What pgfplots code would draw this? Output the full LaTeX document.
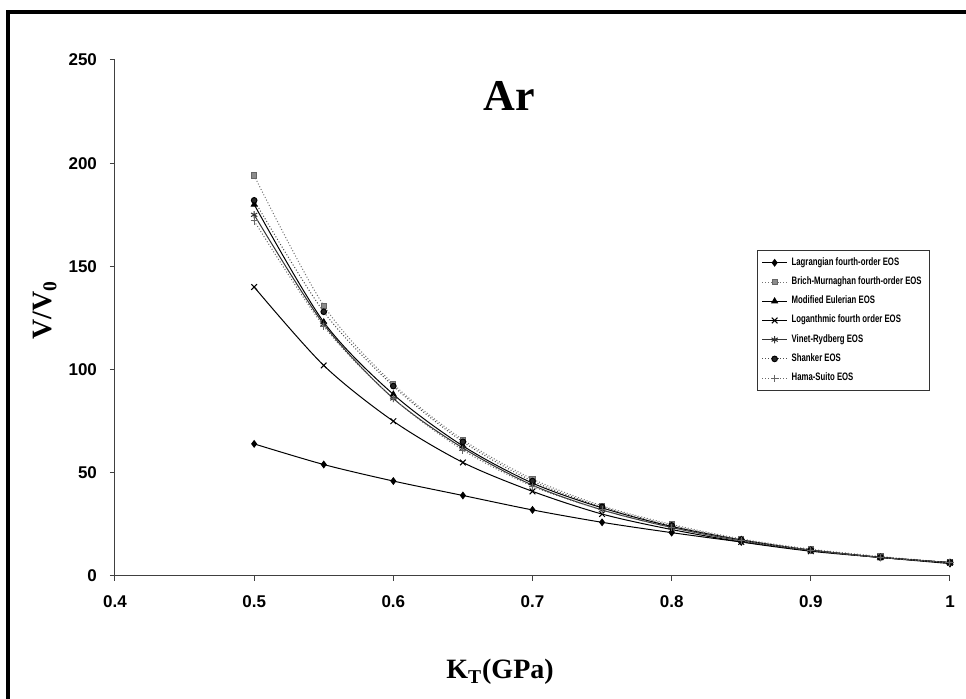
\documentclass[border=0pt]{standalone}
\usepackage{pgfplots}
\pgfplotsset{compat=1.18}
\usepackage{fontspec}
\setmainfont{Liberation Serif}
\setsansfont{Liberation Sans}
\newfontfamily\legfont[FakeStretch=0.72]{Liberation Sans}
\begin{document}
\begin{tikzpicture}
\useasboundingbox (-57.5pt,-61.5pt) rectangle (425.5pt,288pt);
\begin{axis}[
  at={(0pt,0pt)}, anchor=south west,
  scale only axis, width=417.5pt, height=258pt,
  xmin=0.4, xmax=1, ymin=0, ymax=250,
  xtick={0.4,0.5,0.6,0.7,0.8,0.9,1},
  ytick={0,50,100,150,200,250},
  axis x line=bottom, axis y line=left,
  axis line style={-, black!75, line width=0.5pt},
  tick align=outside, major tick length=2.5pt,
  tick style={black!75, line width=0.5pt},
  /pgf/number format/assume math mode=true,
  ticklabel style={font=\sffamily\bfseries\fontsize{8.5}{10}\selectfont},
  xticklabel style={yshift=-4pt},
  yticklabel style={xshift=-3pt},
  clip=false,
  legend style={at={(0.769,0.632)}, anchor=north west, draw=black!80, line width=0.5pt,
    font=\legfont\bfseries\fontsize{5.4}{6.4}\selectfont, row sep=0.2pt,
    inner xsep=2pt, inner ysep=1.5pt},
  legend cell align=left,
  legend image code/.code={\draw[mark repeat=2,mark phase=2,#1] plot coordinates {(0cm,0cm) (0.22cm,0cm) (0.44cm,0cm)};},
  every axis plot/.append style={line width=0.5pt, smooth},
]
\addplot[black, mark=diamond*, mark size=1.6pt] coordinates {
(0.5,64) (0.55,54) (0.6,46) (0.65,39) (0.7,32) (0.75,26) (0.8,21) (0.85,16.5) (0.9,12.5) (0.95,9) (1,6)};
\addlegendentry{Lagrangian fourth-order EOS}
\addplot[black!55, densely dotted, mark=square*, mark options={solid, fill=black!45, draw=black!60}, mark size=1.3pt] coordinates {
(0.5,194) (0.55,131) (0.6,93) (0.65,66) (0.7,47) (0.75,34) (0.8,25) (0.85,18) (0.9,13) (0.95,9.5) (1,6.5)};
\addlegendentry{Brich-Murnaghan fourth-order EOS}
\addplot[black, mark=triangle*, mark size=1.6pt] coordinates {
(0.5,180) (0.55,123) (0.6,88) (0.65,63) (0.7,45) (0.75,33) (0.8,24) (0.85,17.5) (0.9,12.5) (0.95,9) (1,6.5)};
\addlegendentry{Modified Eulerian EOS}
\addplot[black, mark=x, mark size=2pt] coordinates {
(0.5,140) (0.55,102) (0.6,75) (0.65,55) (0.7,41) (0.75,30) (0.8,22.5) (0.85,16.5) (0.9,12) (0.95,9) (1,6.5)};
\addlegendentry{Loganthmic fourth order EOS}
\addplot[black!80, mark=asterisk, mark size=1.8pt] coordinates {
(0.5,175) (0.55,122) (0.6,86) (0.65,62) (0.7,44) (0.75,32) (0.8,23.5) (0.85,17) (0.9,12.5) (0.95,9) (1,6.5)};
\addlegendentry{Vinet-Rydberg EOS}
\addplot[black!70, densely dotted, mark=*, mark options={solid, fill=black!85, draw=black}, mark size=1.4pt] coordinates {
(0.5,182) (0.55,128) (0.6,92) (0.65,65) (0.7,46) (0.75,33.5) (0.8,24.5) (0.85,17.5) (0.9,12.5) (0.95,9) (1,6.5)};
\addlegendentry{Shanker EOS}
\addplot[black!60, densely dotted, mark=+, mark options={solid}, mark size=1.8pt] coordinates {
(0.5,172) (0.55,121) (0.6,86) (0.65,61) (0.7,43.5) (0.75,32) (0.8,23.5) (0.85,17) (0.9,12.5) (0.95,9) (1,6.5)};
\addlegendentry{Hama-Suito EOS}
\end{axis}
\node[font=\bfseries\fontsize{22}{26}\selectfont] at (197pt,240pt) {Ar};
\node[font=\bfseries\fontsize{14}{16}\selectfont, rotate=90] at (-35pt,133pt) {V/V\textsubscript{0}};
\node[font=\bfseries\fontsize{14}{16}\selectfont] at (192.5pt,-48pt) {K\textsubscript{T}(GPa)};
\draw[line width=2pt, black] (-53.5pt,-61.5pt) -- (-53.5pt,282pt) -- (425.5pt,282pt);
\end{tikzpicture}
\end{document}
